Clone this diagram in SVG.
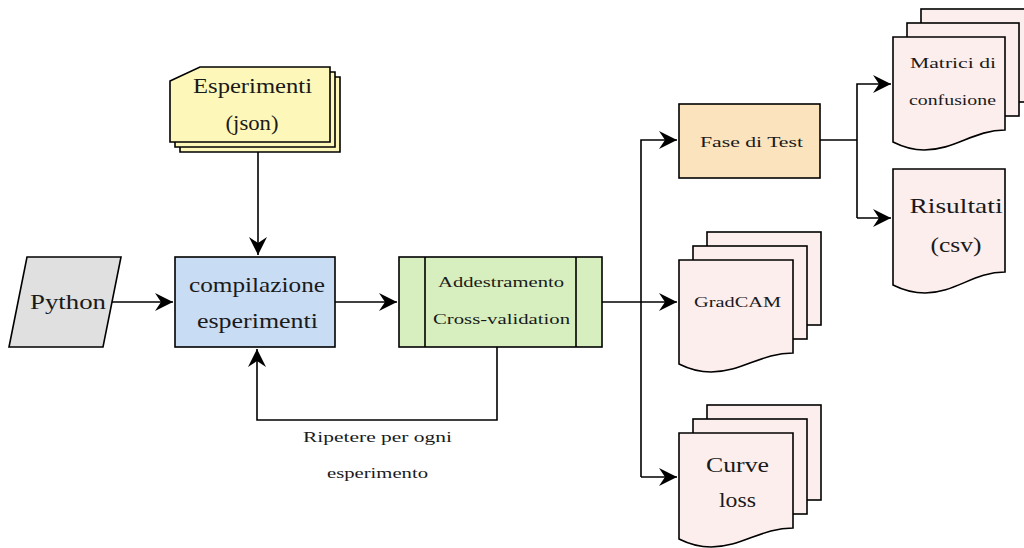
<svg xmlns="http://www.w3.org/2000/svg" width="1024" height="548" viewBox="0 0 1024 548">
<style>
.sh{stroke:#000;stroke-width:1.6;stroke-linejoin:miter}
.ln{fill:none;stroke:#000;stroke-width:1.6}
.big{font-family:"Liberation Serif","Times New Roman",serif;font-size:22px;fill:#1a1a1a;text-anchor:middle}
.sm{font-family:"Liberation Serif","Times New Roman",serif;font-size:14px;fill:#1a1a1a;text-anchor:middle}
.doc{fill:#fdeeee}
</style>
<defs>
<marker id="arr" markerUnits="userSpaceOnUse" markerWidth="20" markerHeight="20" refX="18" refY="9" orient="auto">
<path d="M0,0 L18,9 L0,18 L6,9 Z" fill="#000"/>
</marker>
</defs>
<rect width="1024" height="548" fill="#fff"/>

<g id="connectors">
<path class="ln" d="M258,152 V255" marker-end="url(#arr)"/>
<path class="ln" d="M112,302 H173" marker-end="url(#arr)"/>
<path class="ln" d="M335,302 H397" marker-end="url(#arr)"/>
<path class="ln" d="M497,347 V420 H257 V349" marker-end="url(#arr)"/>
<path class="ln" d="M602,302 H677" marker-end="url(#arr)"/>
<path class="ln" d="M641,477 V140 H677" marker-end="url(#arr)"/>
<path class="ln" d="M641,477 H677" marker-end="url(#arr)"/>
<path class="ln" d="M820,140 H857"/>
<path class="ln" d="M857,218 V84 H891" marker-end="url(#arr)"/>
<path class="ln" d="M857,218 H891" marker-end="url(#arr)"/>
<text class="sm" x="377.5" y="442" textLength="149" lengthAdjust="spacingAndGlyphs">Ripetere per ogni</text>
<text class="sm" x="377.5" y="478" textLength="101" lengthAdjust="spacingAndGlyphs">esperimento</text>
</g>

<g id="esperimenti">
<path class="sh" fill="#fdf8b9" d="M180,91 L210,77 H340 V152 H180 Z"/>
<path class="sh" fill="#fdf8b9" d="M175,86 L205,72 H335 V147 H175 Z"/>
<path class="sh" fill="#fdf8b9" d="M170,81 L200,67 H330 V142 H170 Z"/>
<text class="big" x="252.5" y="93" textLength="119" lengthAdjust="spacingAndGlyphs">Esperimenti</text>
<text class="big" x="252" y="130" textLength="53" lengthAdjust="spacingAndGlyphs">(json)</text>
</g>

<g id="python">
<path class="sh" fill="#e0e0e0" d="M27,257 H121 L103,347 H9 Z"/>
<text class="big" x="68" y="309" textLength="76" lengthAdjust="spacingAndGlyphs">Python</text>
</g>

<g id="compilazione">
<rect class="sh" x="175" y="257" width="160" height="90" fill="#c8dcf4"/>
<text class="big" x="257" y="292" textLength="136" lengthAdjust="spacingAndGlyphs">compilazione</text>
<text class="big" x="257.5" y="328" textLength="121" lengthAdjust="spacingAndGlyphs">esperimenti</text>
</g>

<g id="addestramento">
<rect class="sh" x="399" y="257" width="203" height="90" fill="#d7efbe"/>
<path class="ln" d="M425,257 V347 M576,257 V347"/>
<text class="sm" x="501" y="287" textLength="126" lengthAdjust="spacingAndGlyphs">Addestramento</text>
<text class="sm" x="501.5" y="324" textLength="137" lengthAdjust="spacingAndGlyphs">Cross-validation</text>
</g>

<g id="fase-test">
<rect class="sh" x="679" y="104" width="141" height="74" fill="#fbe3bd"/>
<text class="sm" x="751.5" y="147" textLength="103" lengthAdjust="spacingAndGlyphs">Fase di Test</text>
</g>

<g id="gradcam">
<rect class="sh doc" x="707" y="232" width="114" height="93"/>
<rect class="sh doc" x="693" y="246" width="114" height="93"/>
<path class="sh doc" d="M679,260 H793 V353 C761,353 742,372 711,372 C696,372 687,368 679,364 Z"/>
<text class="sm" x="737.5" y="307" textLength="87" lengthAdjust="spacingAndGlyphs">GradCAM</text>
</g>

<g id="curve-loss">
<rect class="sh doc" x="707" y="405" width="114" height="95"/>
<rect class="sh doc" x="693" y="419" width="114" height="95"/>
<path class="sh doc" d="M679,433 H793 V528 C761,528 742,547 711,547 C696,547 687,543 679,539 Z"/>
<text class="big" x="737.5" y="472" textLength="63" lengthAdjust="spacingAndGlyphs">Curve</text>
<text class="big" x="737.5" y="507" textLength="37" lengthAdjust="spacingAndGlyphs">loss</text>
</g>

<g id="matrici">
<rect class="sh doc" x="921" y="9" width="112" height="93"/>
<rect class="sh doc" x="907" y="23" width="112" height="93"/>
<path class="sh doc" d="M893,37 H1005 V130 C974,130 955,150 924,150 C910,150 901,146 893,142 Z"/>
<text class="sm" x="953" y="68" textLength="86" lengthAdjust="spacingAndGlyphs">Matrici di</text>
<text class="sm" x="952.5" y="105" textLength="87" lengthAdjust="spacingAndGlyphs">confusione</text>
</g>

<g id="risultati">
<path class="sh doc" d="M893,169 H1005 V272 C974,272 955,293 925,293 C910,293 901,289 893,285 Z"/>
<text class="big" x="956" y="213" textLength="93" lengthAdjust="spacingAndGlyphs">Risultati</text>
<text class="big" x="956" y="252" textLength="51" lengthAdjust="spacingAndGlyphs">(csv)</text>
</g>
</svg>
